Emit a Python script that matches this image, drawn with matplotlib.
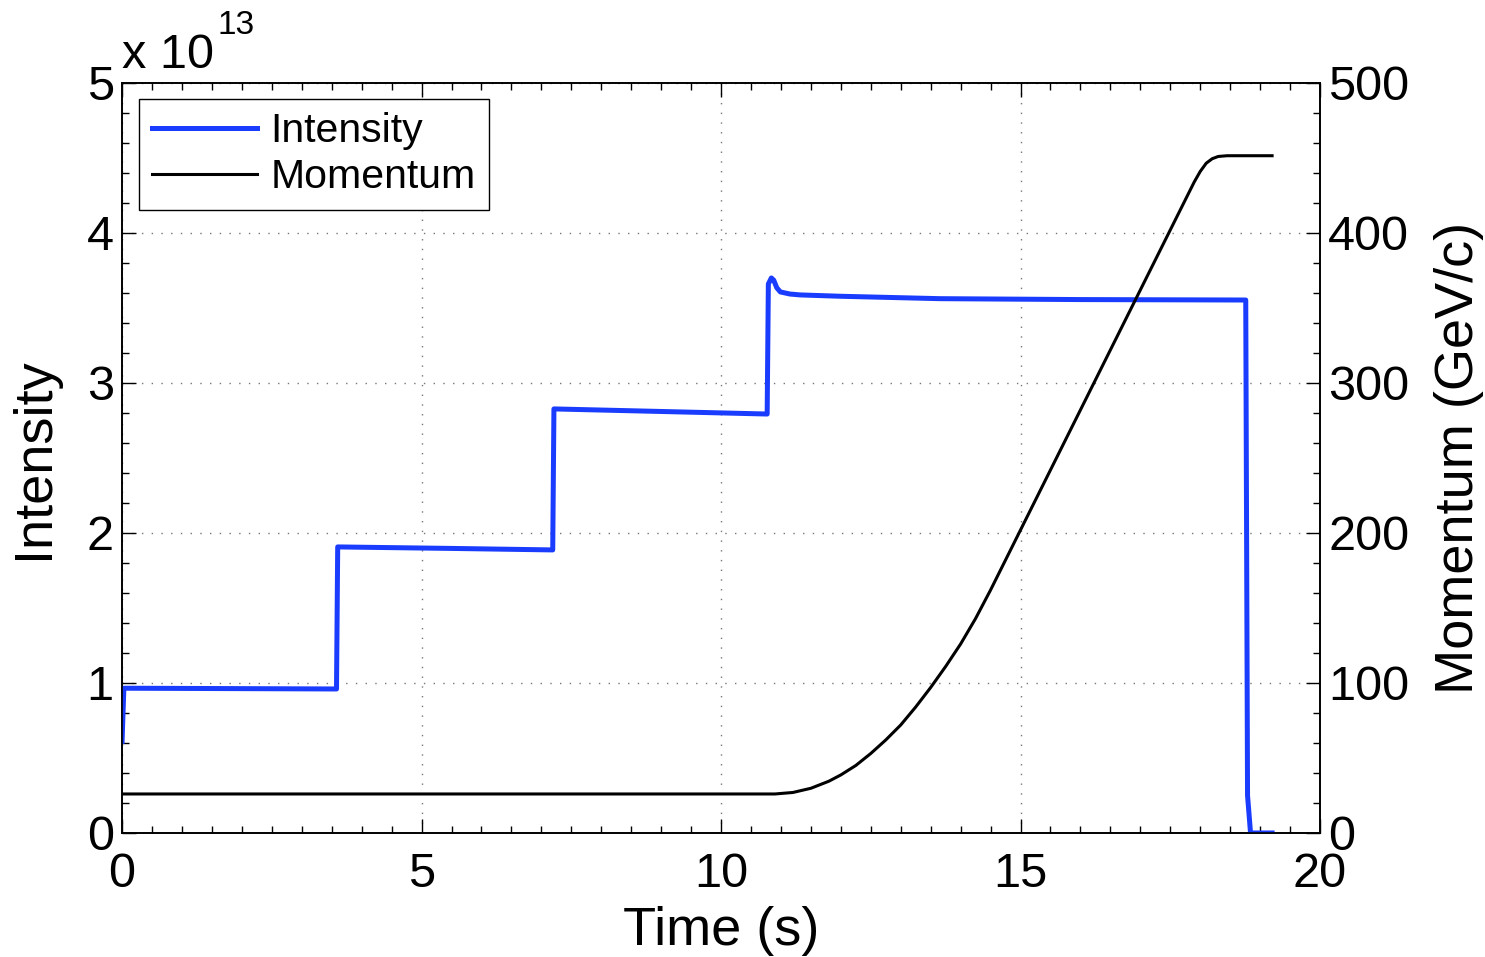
import numpy as np
import matplotlib
matplotlib.use("Agg")
import matplotlib.pyplot as plt
from matplotlib.ticker import MultipleLocator, FuncFormatter
from matplotlib.lines import Line2D

plt.rcParams['font.family'] = ['Liberation Sans', 'DejaVu Sans']

# beam intensity over the cycle (protons, in units of 1e13)
t_int = [0.0, 0.03, 1.5, 3.58, 3.60, 5.5, 7.19, 7.21, 9.0, 10.77, 10.79,
         10.84, 10.88, 10.93, 10.99, 11.15, 11.32, 12.0, 13.66, 16.0, 18.76,
         18.79, 18.84, 19.2]
intensity = [0.61, 0.965, 0.963, 0.960, 1.907, 1.897, 1.887, 2.827, 2.81,
             2.793, 3.66, 3.70, 3.685, 3.635, 3.607, 3.593, 3.587, 3.578,
             3.562, 3.556, 3.553, 0.25, 0.0, 0.0]

# momentum ramp (GeV/c)
t_mom = [0.0, 10.9, 11.2, 11.5, 11.8, 12.0, 12.25, 12.5, 12.75, 13.0, 13.25,
         13.5, 13.75, 14.0, 14.25, 14.5, 14.75, 15.0, 15.5, 16.0, 16.5, 17.0,
         17.5, 17.9, 18.0, 18.1, 18.2, 18.3, 18.45, 19.2]
momentum = [26, 26, 27, 29.8, 34.5, 38.7, 45, 53, 62, 72, 84, 97, 111, 126,
            143, 162, 182, 202, 242, 282, 322, 362, 402, 434, 441, 446.5,
            449.5, 451, 451.5, 451.5]

blue = '#1a3cff'

fig = plt.figure(figsize=(14.85, 9.57), dpi=100)
ax = fig.add_axes([0.0822, 0.1296, 0.8067, 0.7837])
ax2 = ax.twinx()

ax.plot(t_int, np.array(intensity) * 1e13, color=blue, lw=3.6,
        solid_joinstyle='round', zorder=3)
ax2.plot(t_mom, momentum, color='black', lw=2.2, zorder=3)

ax.set_xlim(0, 20)
ax.set_ylim(0, 5e13)
ax2.set_ylim(0, 500)

ax.xaxis.set_major_locator(MultipleLocator(5))
ax.xaxis.set_minor_locator(MultipleLocator(0.5))
ax.yaxis.set_major_locator(MultipleLocator(1e13))
ax.yaxis.set_minor_locator(MultipleLocator(0.2e13))
ax.yaxis.set_major_formatter(FuncFormatter(lambda v, p: f'{v / 1e13:g}'))
ax2.yaxis.set_major_locator(MultipleLocator(100))
ax2.yaxis.set_minor_locator(MultipleLocator(20))

ax.grid(True, which='major', linestyle=(0, (1, 6)), color='#777777', lw=1.0)

for a in (ax, ax2):
    a.tick_params(which='both', direction='in', labelsize=35, width=1.0)
    a.tick_params(which='major', length=10)
    a.tick_params(which='minor', length=5)
    for s in a.spines.values():
        s.set_linewidth(1.2)
ax.tick_params(axis='x', which='both', top=True, pad=14)
ax.tick_params(axis='y', which='both', right=False, pad=6)
ax2.tick_params(axis='y', which='both', pad=6)

ax.set_xlabel('Time (s)', fontsize=39, labelpad=6)
ax.set_ylabel('Intensity', fontsize=39, labelpad=20)
ax2.set_ylabel('Momentum (GeV/c)', fontsize=39, labelpad=18)

# exponent label above the left axis
fig.text(122 / 1485, 1 - 68 / 957, 'x 10', fontsize=35, ha='left', va='baseline')
fig.text(218 / 1485, 1 - 34 / 957, '13', fontsize=24, ha='left', va='baseline')

handles = [Line2D([], [], color=blue, lw=3.6),
           Line2D([], [], color='black', lw=2.2)]
leg = ax2.legend(handles, ['Intensity', 'Momentum'], loc='upper left',
                 bbox_to_anchor=(0.014, 0.979), fontsize=29.5, frameon=True,
                 fancybox=False, edgecolor='black', framealpha=1,
                 handlelength=2.55, handletextpad=0.33, borderpad=0.33,
                 labelspacing=0.2, borderaxespad=0)
leg.get_frame().set_linewidth(1.0)

fig.savefig('out.png', dpi=100)
